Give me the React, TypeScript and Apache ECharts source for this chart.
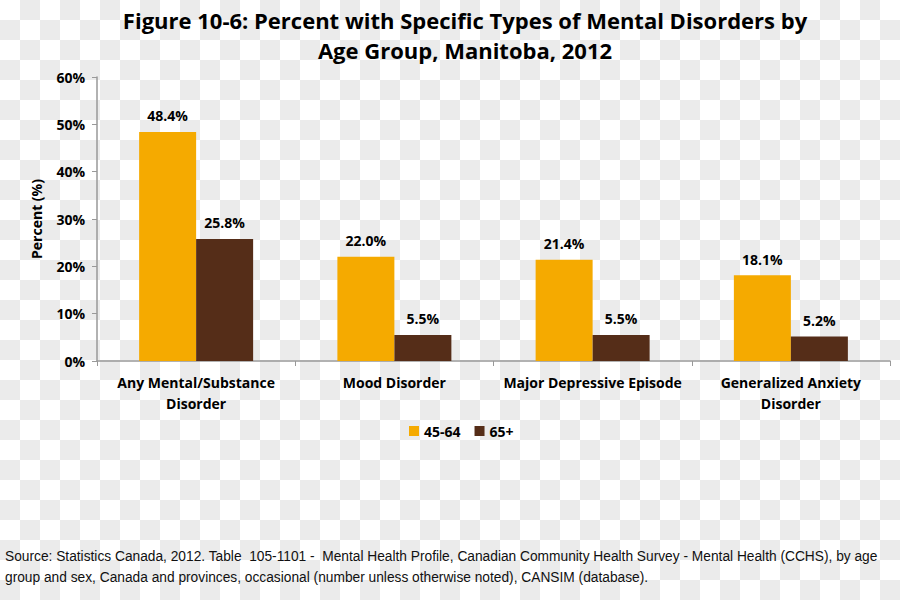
import React, { useEffect, useRef } from "react";
import * as echarts from "echarts";

const categories = [
  "Any Mental/Substance\nDisorder",
  "Mood Disorder",
  "Major Depressive Episode",
  "Generalized Anxiety\nDisorder",
];
const ageGroups = ["45-64", "65+"];
const values4564 = [48.4, 22.0, 21.4, 18.1];
const values65plus = [25.8, 5.5, 5.5, 5.2];
const yTicks = [0, 10, 20, 30, 40, 50, 60];
const titleText =
  "Figure 10-6: Percent with Specific Types of Mental Disorders by\nAge Group, Manitoba, 2012";
const sourceLines = [
  "Source: Statistics Canada, 2012. Table  105-1101 -  Mental Health Profile, Canadian Community Health Survey - Mental Health (CCHS), by age",
  "group and sex, Canada and provinces, occasional (number unless otherwise noted), CANSIM (database).",
];

const colors = ["#F5AA00", "#552D18"];
const FONT = "'Open Sans', sans-serif";
const SRC_FONT = "'Liberation Sans', sans-serif";
const SRC_SIZE = 15;

function measure(text: string, font: string): number {
  const c = document.createElement("canvas").getContext("2d");
  if (!c) return text.length * 7;
  c.font = font;
  return c.measureText(text).width;
}

export default function App() {
  const ref = useRef<HTMLDivElement>(null);
  useEffect(() => {
    if (!ref.current) return;
    const chart = echarts.init(ref.current, undefined, { renderer: "svg" });
    const srcW = measure(sourceLines[0], `${SRC_SIZE}px 'Liberation Sans'`);
    const sx = 874 / srcW;
    const labelCfg = {
      show: true,
      position: "top",
      distance: 9,
      formatter: (p: any) => p.value.toFixed(1) + "%",
      color: "#000",
      fontFamily: FONT,
      fontWeight: "bold",
      fontSize: 14,
    };
    chart.setOption({
      animation: false,
      backgroundColor: "transparent",
      title: {
        text: titleText,
        left: 460,
        textAlign: "center",
        top: 0,
        textStyle: {
          fontFamily: FONT,
          fontWeight: "bold",
          fontSize: 22,
          lineHeight: 30,
          color: "#000",
        },
      },
      graphic: sourceLines.map((line, i) => ({
        type: "text",
        x: 5,
        y: 548 + i * 21,
        scaleX: sx,
        style: {
          text: line,
          fontFamily: SRC_FONT,
          fontSize: SRC_SIZE,
          fill: "#111",
        },
      })),
      legend: {
        data: ageGroups,
        top: 419,
        left: 404,
        itemWidth: 10,
        itemHeight: 10,
        itemGap: 14,
        icon: "rect",
        textStyle: {
          fontFamily: FONT,
          fontWeight: "bold",
          fontSize: 14,
          color: "#000",
        },
      },
      grid: { left: 97, right: 10, top: 77, bottom: 239, containLabel: false },
      xAxis: {
        type: "category",
        data: categories,
        axisLine: { lineStyle: { color: "#999", width: 1.5 } },
        axisTick: { show: true, length: 5, lineStyle: { color: "#999" } },
        axisLabel: {
          interval: 0,
          margin: 11,
          color: "#000",
          fontFamily: FONT,
          fontWeight: "bold",
          fontSize: 14,
          lineHeight: 21,
        },
      },
      yAxis: {
        type: "value",
        min: yTicks[0],
        max: yTicks[yTicks.length - 1],
        interval: 10,
        name: "Percent (%)",
        nameLocation: "middle",
        nameGap: 54,
        nameTextStyle: {
          fontFamily: FONT,
          fontWeight: "bold",
          fontSize: 14,
          color: "#000",
        },
        axisLine: { show: true, lineStyle: { color: "#999", width: 1.5 } },
        axisTick: { show: true, length: 5, lineStyle: { color: "#999" } },
        splitLine: { show: false },
        axisLabel: {
          formatter: "{value}%",
          margin: 12,
          color: "#000",
          fontFamily: FONT,
          fontWeight: "bold",
          fontSize: 14,
        },
      },
      series: [
        {
          name: ageGroups[0],
          type: "bar",
          data: values4564,
          barWidth: 57,
          barGap: "0%",
          itemStyle: { color: colors[0] },
          label: labelCfg,
        },
        {
          name: ageGroups[1],
          type: "bar",
          data: values65plus,
          barWidth: 57,
          barGap: "0%",
          itemStyle: { color: colors[1] },
          label: labelCfg,
        },
      ],
    });
    return () => chart.dispose();
  }, []);
  return (
    <div
      style={{
        position: "fixed",
        left: 0,
        top: 0,
        width: 900,
        height: 600,
        backgroundColor: "#fff",
        backgroundImage:
          "conic-gradient(#ebebeb 0deg 90deg, #fff 90deg 180deg, #ebebeb 180deg 270deg, #fff 270deg 360deg)",
        backgroundSize: "40px 40px",
      }}
    >
      <div ref={ref} style={{ width: 900, height: 600 }} />
    </div>
  );
}
